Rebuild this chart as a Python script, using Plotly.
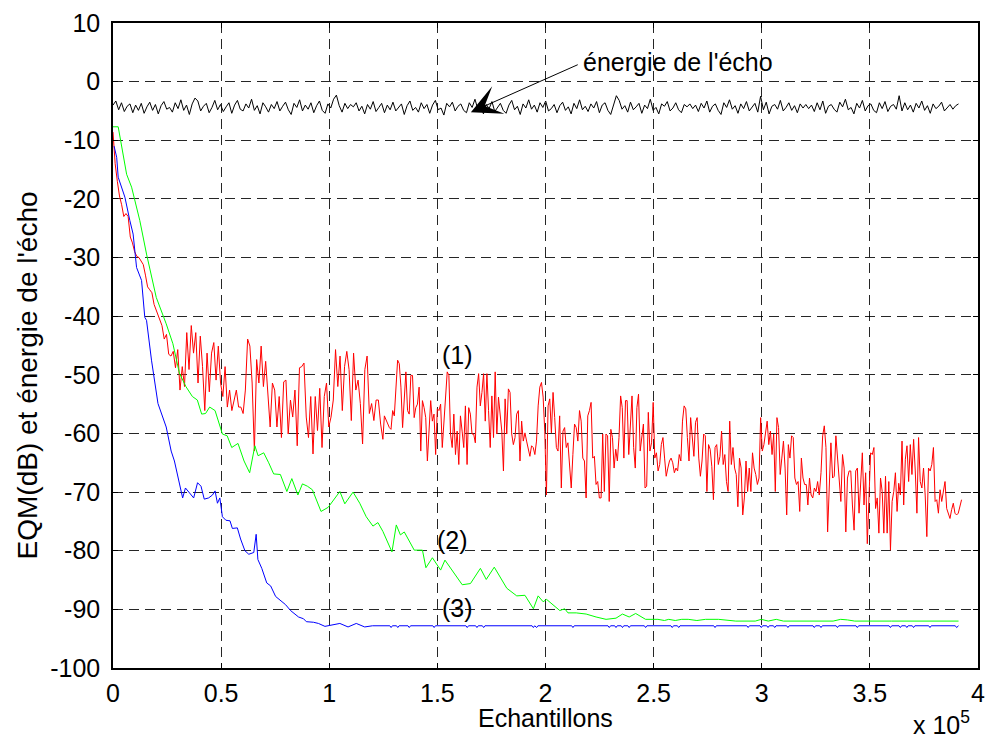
import numpy as np
import plotly.graph_objects as go

# ---------------------------------------------------------------------------
# Data (x in units of 1e5 samples, y in dB)
# ---------------------------------------------------------------------------

# Echo energy (black), evenly spaced samples from 0 to 3.91e5
echo_x_end = 3.91
echo_db = [
    -4.0, -3.3, -4.8, -3.6, -5.1, -4.2, -3.8, -5.3, -4.0, -4.9, -3.7, -5.4, -4.3, -3.5, -4.9, -3.9, -5.5, -4.1, -3.4, -4.7,
    -4.4, -5.2, -3.6, -4.6, -3.1, -4.9, -4.0, -5.6, -3.8, -2.8, -3.3, -5.0, -4.2, -3.7, -5.3, -4.4, -3.2, -4.8, -3.9, -5.1,
    -4.3, -3.6, -5.4, -4.0, -3.2, -4.7, -5.0, -3.8, -4.5, -3.0, -4.9, -4.1, -5.5, -3.6, -4.3, -5.2, -3.9, -4.6, -3.4, -5.0,
    -4.2, -3.5, -4.8, -5.6, -3.7, -4.4, -3.1, -5.0, -4.0, -4.7, -3.6, -5.3, -4.1, -3.3, -4.9, -5.4, -3.8, -4.5, -3.0, -2.3,
    -4.1, -5.2, -3.7, -4.6, -3.9, -4.3, -3.6, -5.0, -4.2, -5.5, -3.9, -4.7, -3.4, -5.1, -4.4, -3.7, -5.3, -4.0, -4.8, -3.5,
    -5.0, -4.3, -3.8, -5.6, -4.1, -3.3, -4.9, -4.4, -5.2, -3.6, -4.6, -3.9, -5.4, -4.0, -3.2, -4.8, -4.5, -5.7, -3.7, -4.3,
    -3.5, -5.0, -4.2, -3.8, -4.9, -5.3, -3.6, -4.4, -3.0, -4.7, -4.1, -5.5, -3.9, -4.6, -3.4, -5.1, -4.3, -3.7, -4.9, -5.4,
    -4.0, -3.2, -4.8, -4.2, -5.6, -3.8, -4.5, -3.1, -4.7, -4.0, -5.2, -3.6, -4.4, -3.3, -5.0, -4.6, -3.9, -5.3, -4.1, -3.5,
    -4.9, -4.3, -5.5, -3.7, -4.6, -3.1, -4.8, -4.2, -5.1, -3.8, -4.5, -3.4, -5.3, -4.0, -3.6, -4.9, -5.6, -3.9, -2.4, -3.2,
    -4.7, -4.1, -5.2, -3.5, -4.8, -4.3, -3.7, -5.4, -4.0, -4.6, -3.0, -4.9, -4.4, -5.5, -3.8, -4.2, -3.4, -5.0, -4.5, -3.6,
    -4.8, -5.3, -3.9, -4.3, -3.8, -4.6, -4.0, -5.1, -3.7, -4.5, -3.3, -5.2, -4.2, -3.8, -4.9, -5.6, -3.6, -4.4, -3.1, -4.7,
    -4.1, -5.4, -3.8, -4.6, -3.4, -5.0, -4.3, -3.7, -5.2, -2.5, -4.8, -3.5, -5.5, -4.2, -3.9, -4.7, -3.2, -5.0, -4.4, -3.6,
    -4.9, -4.1, -5.3, -3.8, -4.5, -3.9, -4.6, -4.0, -5.1, -3.6, -4.8, -3.3, -5.4, -4.2, -3.9, -4.7, -5.2, -3.5, -4.3, -3.0,
    -4.8, -4.4, -5.5, -3.7, -4.5, -3.2, -5.0, -4.1, -3.8, -4.9, -5.3, -3.6, -4.6, -3.4, -5.1, -4.2, -3.9, -4.7, -2.4, -5.0,
    -3.6, -4.8, -4.0, -5.2, -3.7, -4.5, -3.3, -4.9, -4.1, -5.4, -3.8, -4.6, -4.2, -3.5, -5.0, -4.4, -3.9, -4.7, -4.1, -3.8,
]

# Curve (1), red: read in consecutive spans, each span evenly sampled
red_spans = [(0.0, 0.21), (0.216, 1.248), (1.255, 2.249), (2.257, 3.266), (3.274, 3.924)]
red_a = [-8.6, -14.0, -17.0, -19.5, -21.0, -23.0, -22.5, -23.0, -26.5, -27.5, -29.0,
         -29.8, -30.0, -30.5, -31.2, -33.0, -35.0, -35.5, -36.0, -38.0, -39.0, -40.0]
red_b = [
    -40.5, -41.6, -43.9, -43.1, -46.5, -46.8, -46.0, -48.8, -45.7, -52.6, -48.6, -52.0, -42.8, -49.1, -41.6, -46.3, -42.8, -51.4, -43.4, -48.6,
    -56.1, -46.3, -52.9, -46.3, -44.5, -50.9, -45.1, -51.4, -53.7, -48.6, -55.5, -52.6, -56.1, -54.3, -52.6, -55.5, -55.5, -56.6, -52.6, -43.9,
    -45.1, -51.4, -63.0, -47.4, -51.4, -45.1, -52.0, -47.7, -53.2, -58.9, -51.4, -52.6, -58.9, -53.7, -60.7, -51.2, -50.9, -60.1, -54.3, -57.2,
    -52.6, -62.1, -48.8, -48.6, -48.0, -57.2, -60.7, -53.7, -63.5, -53.7, -59.5, -52.3, -62.4, -53.7, -51.4, -58.9, -57.2, -54.3, -45.7, -52.0,
    -46.8, -56.1, -48.6, -46.0, -49.1, -57.8, -46.3, -52.6, -50.9, -54.9, -61.8, -49.1, -46.8, -56.6, -54.9, -57.8, -54.3, -54.3, -58.4, -61.0,
]
red_c = [
    -57.0, -57.6, -58.4, -59.0, -59.3, -56.1, -57.0, -52.1, -47.5, -48.1, -52.1, -59.0, -53.8, -49.5, -56.1, -56.7, -50.1, -50.1, -57.3, -55.6,
    -55.0, -52.1, -63.0, -54.4, -55.6, -57.3, -64.7, -59.6, -54.4, -57.9, -56.7, -63.6, -55.8, -56.1, -55.0, -62.4, -57.9, -52.1, -49.5, -50.1,
    -60.1, -62.4, -56.7, -63.6, -59.6, -65.3, -57.0, -59.6, -62.4, -55.3, -65.3, -55.6, -56.7, -60.1, -60.1, -61.6, -52.1, -49.8, -55.3, -53.0,
    -49.8, -57.9, -49.8, -56.1, -62.4, -53.6, -60.7, -49.5, -60.1, -53.8, -56.7, -59.6, -66.4, -54.1, -60.1, -52.4, -53.0, -60.1, -61.9, -60.7,
    -56.7, -56.1, -64.7, -57.9, -61.3, -59.9, -61.3, -62.4, -63.9, -62.1, -62.4, -63.6, -61.3, -55.3, -52.1, -51.3, -53.8, -59.6, -70.5, -55.3,
    -54.1, -59.9, -53.0, -57.3, -62.4, -63.0, -57.0, -69.3, -59.6, -59.0, -62.4, -61.6, -65.3, -69.3, -63.6, -58.4, -59.0, -61.3, -56.1, -57.9,
    -64.2, -64.7, -71.0, -57.0, -56.1, -54.7, -64.2, -63.9, -68.7, -68.2, -71.0,
]
red_d = [
    -71.0, -60.1, -69.9, -60.1, -60.4, -71.6, -59.3, -60.7, -65.9, -62.7, -64.7, -60.7, -53.6, -55.6, -64.2, -54.4, -54.4, -63.6, -57.9, -53.6,
    -62.4, -65.9, -55.6, -53.3, -63.0, -60.1, -58.4, -69.3, -69.0, -56.4, -63.0, -61.6, -54.7, -64.2, -63.3, -66.4, -65.3, -61.9, -60.7, -64.2,
    -67.3, -65.9, -64.7, -64.2, -65.0, -66.7, -65.9, -66.4, -63.6, -64.7, -57.9, -55.3, -55.8, -60.7, -64.7, -57.3, -61.3, -63.9, -58.1, -57.3,
    -64.2, -67.3, -64.7, -60.1, -60.4, -69.9, -61.9, -62.7, -65.6, -71.3, -62.4, -61.9, -65.3, -63.9, -59.6, -65.3, -63.6, -68.2, -69.9, -57.9,
    -65.3, -62.4, -65.9, -67.0, -72.5, -64.2, -65.9, -73.9, -71.0, -64.7, -69.9, -65.9, -69.9, -63.3, -65.9, -67.0, -68.7, -67.6, -57.3, -63.0,
    -61.9, -60.1, -57.9, -61.9, -59.6, -63.6, -60.1, -69.9, -57.3, -59.0, -67.0, -64.2, -61.3, -65.9, -73.9, -61.9, -64.2, -60.4, -60.7, -67.6,
    -68.7, -68.2, -73.3, -64.2, -67.6, -68.7, -68.7, -72.2, -67.6, -70.5, -71.0, -69.3, -69.9, -68.2, -70.5,
]
red_e = [
    -66.7, -60.4, -58.7, -62.4, -76.8, -67.0, -61.6, -67.6, -67.3, -60.4, -64.7, -67.6, -71.6, -63.6, -65.9, -76.8, -67.6, -66.4, -66.4, -72.2,
    -76.5, -66.4, -65.9, -73.6, -67.0, -63.3, -72.2, -66.7, -78.8, -72.2, -63.3, -63.6, -62.4, -72.8, -71.0, -77.0, -67.6, -69.9, -77.0, -67.3,
    -77.0, -68.2, -79.9, -71.6, -69.9, -66.7, -73.3, -68.5, -70.5, -61.3, -72.2, -64.4, -62.1, -68.2, -61.9, -67.0, -61.0, -66.4, -73.6, -60.7,
    -68.2, -69.3, -65.9, -70.5, -77.6, -65.9, -66.4, -65.3, -62.4, -71.6, -71.3, -73.6, -69.6, -71.6, -70.2, -68.2, -72.8, -73.6, -74.5, -73.0,
    -71.9, -73.6, -73.9, -73.6, -72.2, -71.3,
]
red_parts = [red_a, red_b, red_c, red_d, red_e]

# Curve (2), green
green_x = [0.0, 0.005, 0.024, 0.063, 0.086, 0.124, 0.155, 0.200, 0.246, 0.277, 0.307, 0.337, 0.367, 0.390,
           0.410, 0.428, 0.447, 0.472, 0.506, 0.528, 0.549, 0.578, 0.606, 0.632, 0.656, 0.671, 0.697, 0.720,
           0.743, 0.774, 0.804, 0.827, 0.855, 0.876, 0.899, 0.922, 0.962, 0.995, 1.049, 1.072, 1.110, 1.141,
           1.171, 1.202, 1.225, 1.248, 1.290, 1.310, 1.329, 1.347, 1.393, 1.431, 1.447, 1.477, 1.515, 1.535,
           1.615, 1.653, 1.699, 1.726, 1.763, 1.821, 1.867, 1.905, 1.944, 1.966, 1.989, 2.005, 2.066, 2.089,
           2.104, 2.142, 2.188, 2.234, 2.280, 2.326, 2.356, 2.387, 2.417, 2.463, 2.52, 2.55, 2.57, 2.60,
           2.63, 2.66, 2.70, 2.74, 2.80, 2.88, 2.97, 2.998, 3.03, 3.067, 3.10, 3.33, 3.365, 3.396, 3.43,
           3.60, 3.80, 3.91]
green_db = [-7.7, -7.7, -7.7, -15.8, -18.0, -23.7, -29.4, -36.8, -41.3, -44.7, -49.7, -52.0, -53.7, -54.3,
            -56.7, -56.6, -55.5, -56.1, -60.1, -60.4, -62.4, -61.7, -64.7, -66.7, -62.1, -63.8, -63.3, -65.0,
            -66.9, -67.0, -69.9, -67.7, -70.5, -68.6, -69.0, -69.6, -73.3, -72.6, -69.9, -72.0, -70.0, -71.9,
            -74.2, -75.8, -75.2, -76.7, -80.2, -75.6, -77.3, -76.8, -79.9, -79.9, -82.9, -81.2, -83.3, -81.6,
            -85.8, -85.6, -83.0, -84.9, -82.8, -86.4, -87.7, -87.6, -89.9, -87.7, -88.7, -88.3, -90.2, -89.9,
            -90.6, -90.6, -90.8, -91.3, -91.7, -91.5, -90.8, -91.3, -90.7, -91.7, -91.7, -91.9, -91.7, -91.9,
            -91.7, -91.7, -91.9, -91.7, -91.7, -92.0, -92.0, -91.7, -92.0, -91.7, -92.0, -92.0, -91.7, -91.8, -92.0,
            -92.0, -92.0, -92.0]

# Curve (3), blue
blue_x = [0.005, 0.017, 0.024, 0.047, 0.055, 0.078, 0.093, 0.109, 0.132, 0.147, 0.155, 0.178, 0.208, 0.246,
          0.269, 0.284, 0.300, 0.322, 0.335, 0.353, 0.373, 0.391, 0.407, 0.422, 0.442, 0.460, 0.472, 0.483,
          0.494, 0.506, 0.522, 0.541, 0.552, 0.575, 0.590, 0.610, 0.628, 0.651, 0.662, 0.670, 0.688, 0.711,
          0.729, 0.752, 0.775, 0.798, 0.821, 0.858, 0.881, 0.894, 0.927, 0.950, 0.980, 1.009, 1.049, 1.087,
          1.125, 1.164, 1.20, 1.28, 1.286, 1.292, 1.311, 1.317, 1.323, 1.364, 1.370, 1.376, 1.479, 1.485,
          1.491, 1.632, 1.638, 1.644, 1.677, 1.683, 1.689, 1.708, 1.714, 1.720, 1.938, 1.944, 1.950, 1.959,
          1.965, 2.121, 2.127, 2.133, 2.289, 2.295, 2.301, 2.320, 2.326, 2.332, 2.350, 2.356, 2.362, 2.381,
          2.387, 2.393, 2.457, 2.463, 2.469, 2.580, 2.586, 2.592, 2.610, 2.616, 2.622, 2.778, 2.784, 2.790,
          2.931, 2.937, 2.943, 2.992, 2.998, 3.004, 3.023, 3.029, 3.035, 3.054, 3.060, 3.066, 3.115, 3.121,
          3.127, 3.237, 3.243, 3.249, 3.268, 3.274, 3.280, 3.344, 3.350, 3.356, 3.436, 3.442, 3.448, 3.589,
          3.595, 3.601, 3.635, 3.641, 3.647, 3.665, 3.671, 3.677, 3.696, 3.702, 3.708, 3.772, 3.778, 3.784,
          3.895, 3.901, 3.91]
blue_db = [-11.0, -12.9, -16.3, -18.9, -19.7, -23.7, -26.0, -31.7, -33.9, -40.2, -40.7, -47.5, -54.9, -58.9,
           -63.0, -64.7, -67.6, -71.0, -69.3, -70.2, -71.0, -68.4, -69.0, -71.2, -71.0, -70.5, -69.8, -71.9,
           -71.0, -74.2, -74.8, -74.9, -76.2, -76.1, -78.0, -80.0, -80.6, -80.3, -77.2, -81.5, -83.0, -85.5,
           -86.0, -87.8, -88.5, -89.2, -90.2, -91.3, -91.6, -92.1, -92.2, -92.4, -92.9, -92.7, -92.4, -93.0,
           -92.4, -93.0, -92.8, -92.8, -93.1, -92.8, -92.8, -93.1, -92.8, -92.8, -93.1, -92.8, -92.8, -93.1,
           -92.8, -92.8, -93.1, -92.8, -92.8, -93.1, -92.8, -92.8, -93.1, -92.8, -92.8, -93.1, -92.8, -93.1,
           -92.8, -92.8, -93.1, -92.8, -92.8, -93.1, -92.8, -92.8, -93.1, -92.8, -92.8, -93.1, -92.8, -92.8,
           -93.1, -92.8, -92.8, -93.1, -92.8, -92.8, -93.1, -92.8, -92.8, -93.1, -92.8, -92.8, -93.1, -92.8,
           -92.8, -93.1, -92.8, -92.8, -93.1, -92.8, -92.8, -93.1, -92.8, -92.8, -93.1, -92.8, -92.8, -93.1,
           -92.8, -92.8, -93.1, -92.8, -92.8, -93.1, -92.8, -92.8, -93.1, -92.8, -92.8, -93.1, -92.8, -92.8,
           -93.1, -92.8, -92.8, -93.1, -92.8, -92.8, -93.1, -92.8, -92.8, -93.1, -92.8, -92.8, -93.1, -92.8,
           -92.8, -93.1, -92.8]

x_ticks = [0, 0.5, 1, 1.5, 2, 2.5, 3, 3.5, 4]
y_ticks = [-100, -90, -80, -70, -60, -50, -40, -30, -20, -10, 0, 10]

# ---------------------------------------------------------------------------
echo_x = np.linspace(0, echo_x_end, len(echo_db))
red_x = np.concatenate([np.linspace(a, b, len(v)) for (a, b), v in zip(red_spans, red_parts)])
red_db = np.concatenate(red_parts)

FONT = "Liberation Sans, Arial, sans-serif"
FS = 25

fig = go.Figure()
fig.add_trace(go.Scatter(x=echo_x, y=echo_db, mode="lines", line=dict(color="black", width=1)))
fig.add_trace(go.Scatter(x=red_x, y=red_db, mode="lines", line=dict(color="#ff0000", width=1)))
fig.add_trace(go.Scatter(x=green_x, y=green_db, mode="lines", line=dict(color="#00ff00", width=1)))
fig.add_trace(go.Scatter(x=blue_x, y=blue_db, mode="lines", line=dict(color="#0000ff", width=1)))

axis_common = dict(
    showline=True, linecolor="black", linewidth=1.5, mirror="ticks",
    ticks="inside", ticklen=5, tickcolor="black",
    showgrid=True, gridcolor="rgba(0,0,0,0.85)", gridwidth=1, griddash="10px,6px",
    zeroline=False, tickfont=dict(family=FONT, size=FS, color="black"),
)

fig.update_layout(
    width=994, height=740,
    margin=dict(l=113, r=9, t=22, b=72),
    paper_bgcolor="white", plot_bgcolor="white",
    showlegend=False,
    xaxis=dict(range=[0, 4], tickvals=x_ticks, ticktext=[f"{t:g}" for t in x_ticks],
               ticklabelstandoff=2, **axis_common),
    yaxis=dict(range=[-100, 10], tickvals=y_ticks, ticktext=[str(t) for t in y_ticks],
               ticklabelstandoff=6, **axis_common),
    font=dict(family=FONT, size=FS, color="black"),
)

annotations = [
    dict(x=1.592, y=-46.7, text="(1)", showarrow=False, font=dict(size=FS)),
    dict(x=1.569, y=-78.2, text="(2)", showarrow=False, font=dict(size=FS)),
    dict(x=1.592, y=-89.8, text="(3)", showarrow=False, font=dict(size=FS)),
    dict(x=2.165, y=3.4, text="énergie de l'écho", showarrow=False, xanchor="left", font=dict(size=FS)),
    # arrow pointing at the echo-energy curve
    dict(x=1.655, y=-5.2, ax=2.156, ay=3.0, axref="x", ayref="y", xref="x", yref="y",
         text="", showarrow=True, arrowhead=3, arrowsize=5, arrowwidth=1, arrowcolor="black"),
    dict(xref="paper", yref="paper", x=0.5, y=0, yshift=-50, yanchor="middle", text="Echantillons",
         showarrow=False, font=dict(size=FS)),
    dict(xref="paper", yref="paper", x=0, y=0.4536, xshift=-86, xanchor="center", yanchor="middle",
         text="EQM(dB) et énergie de l'écho", textangle=-90, showarrow=False, font=dict(size=28)),
    dict(xref="paper", yref="paper", x=0.9576, y=0, yshift=-55, xanchor="center", yanchor="middle",
         text="x 10<sup>5</sup>", showarrow=False, font=dict(size=FS)),
]
fig.update_layout(annotations=annotations)

fig.write_html("out.html")
